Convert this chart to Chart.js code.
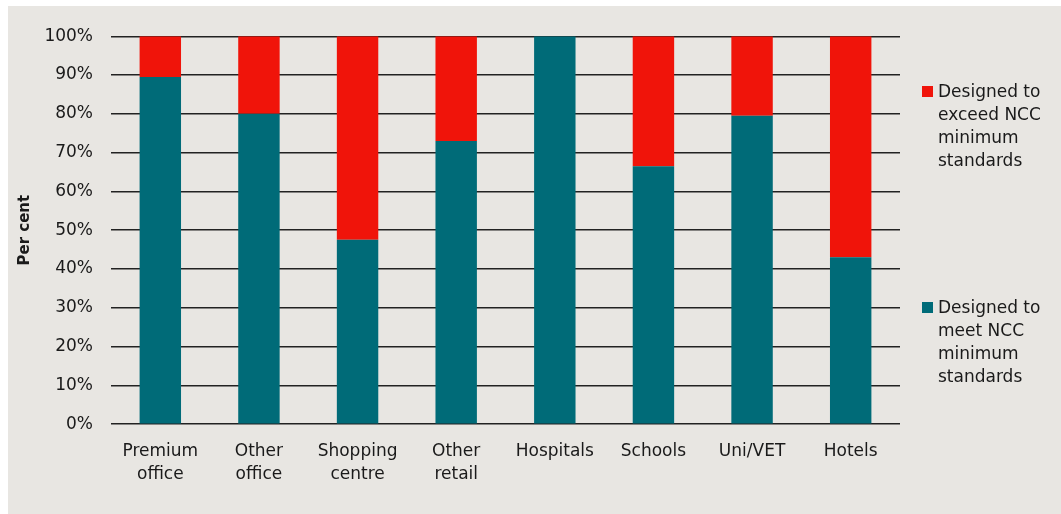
<!DOCTYPE html>
<html>
<head>
<meta charset="UTF-8">
<title>Buildings designed to meet or exceed NCC minimum standards</title>
<script src="https://cdn.jsdelivr.net/npm/chart.js@4/dist/chart.umd.min.js"></script>
<style>
body { margin: 0; background: #ffffff; }
#box {
  position: absolute; left: 8px; top: 6px;
  width: 1053px; height: 508px;
  background: #e8e6e2;
}
#myChart { position: absolute; left: 0; top: 2px; }
#legend {
  position: absolute; left: 914px; top: 74px;
  font-family: "DejaVu Sans", sans-serif;
  font-size: 17px; line-height: 23px; color: #1a1a1a;
}
.item { position: relative; padding-left: 16px; }
.sw { position: absolute; left: 0; top: 6px; width: 11px; height: 11px; }
</style>
</head>
<body>
<div id="box">
<canvas id="myChart" width="1053" height="506"></canvas>
<div id="legend">
  <div class="item"><span class="sw" style="background:#f0140a"></span>Designed to<br>exceed NCC<br>minimum<br>standards</div>
  <div class="item" style="margin-top:124px"><span class="sw" style="background:#006b78"></span>Designed to<br>meet NCC<br>minimum<br>standards</div>
</div>
</div>
<script>
// categories (two-line labels) and series values
var categories = [
  ["Premium", "office"], ["Other", "office"], ["Shopping", "centre"], ["Other", "retail"],
  "Hospitals", "Schools", "Uni/VET", "Hotels"
];
var meetValues = [89.5, 80, 47.5, 73, 100, 66.5, 79.5, 43];
var exceedValues = [10.5, 20, 52.5, 27, 0, 33.5, 20.5, 57];
var yTicks = [0, 10, 20, 30, 40, 50, 60, 70, 80, 90, 100];

var font = "'DejaVu Sans', sans-serif";

new Chart(document.getElementById("myChart"), {
  type: "bar",
  data: {
    labels: categories,
    datasets: [
      { label: "Designed to meet NCC minimum standards", data: meetValues,
        backgroundColor: "#006b78", barPercentage: 0.42, categoryPercentage: 1 },
      { label: "Designed to exceed NCC minimum standards", data: exceedValues,
        backgroundColor: "#f0140a", barPercentage: 0.42, categoryPercentage: 1 }
    ]
  },
  options: {
    responsive: false,
    animation: false,
    layout: { padding: { top: 28, right: 161, left: 0, bottom: 20 } },
    plugins: { legend: { display: false }, tooltip: { enabled: false } },
    scales: {
      x: {
        stacked: true,
        grid: { display: false },
        border: { display: false },
        ticks: { color: "#1a1a1a", font: { family: font, size: 17, lineHeight: 1.35 }, padding: 8, maxRotation: 0 }
      },
      y: {
        stacked: true,
        min: 0, max: 100,
        afterBuildTicks: function(axis) { axis.ticks = yTicks.map(function(v) { return { value: v }; }); },
        afterFit: function(axis) { axis.width = 103; },
        grid: { color: "#222222", lineWidth: 1.4, drawTicks: false },
        border: { display: false },
        ticks: { color: "#1a1a1a", font: { family: font, size: 17 }, padding: 18,
                 callback: function(v) { return v + "%"; } },
        title: { display: true, text: "Per cent", color: "#1a1a1a",
                 font: { family: font, size: 15, weight: "bold" }, padding: { top: 8, bottom: 4 } }
      }
    }
  }
});
</script>
</body>
</html>
